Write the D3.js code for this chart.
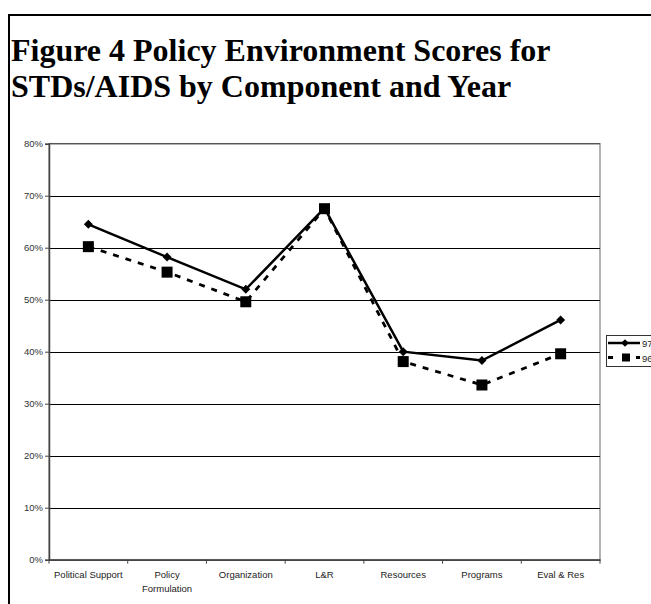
<!DOCTYPE html>
<html>
<head>
<meta charset="utf-8">
<script src="https://cdn.jsdelivr.net/npm/d3@7/dist/d3.min.js"></script>
<style>
  html, body { margin: 0; padding: 0; background: #fff; overflow: hidden; }
  svg { display: block; }
</style>
</head>
<body>
<svg id="chart" width="651" height="604"></svg>
<script>
// Component categories along the x axis (label lines split for wrapping)
const categories = ["Political Support", "Policy Formulation", "Organization", "L&R", "Resources", "Programs", "Eval & Res"];
const categoryLines = [["Political Support"], ["Policy", "Formulation"], ["Organization"], ["L&R"], ["Resources"], ["Programs"], ["Eval & Res"]];

// Policy environment scores (percent) by year
const series97 = [64.5, 58.2, 52.0, 67.6, 40.0, 38.3, 46.1];
const series96 = [60.2, 55.3, 49.6, 67.5, 38.1, 33.6, 39.6];
const seriesNames = ["97", "96"];

// Y axis ticks
const yTicks = [0, 10, 20, 30, 40, 50, 60, 70, 80];

const svg = d3.select("#chart");

// Outer frame
svg.append("rect")
  .attr("x", 9).attr("y", 15)
  .attr("width", 700).attr("height", 700)
  .attr("fill", "none").attr("stroke", "#000").attr("stroke-width", 2);

// Title
const title = svg.append("text")
  .attr("font-family", "'Liberation Serif', 'Times New Roman', serif")
  .attr("font-weight", "bold")
  .attr("font-size", 32)
  .attr("fill", "#000");
title.append("tspan").attr("x", 11).attr("y", 61).text("Figure 4 Policy Environment Scores for");
title.append("tspan").attr("x", 11).attr("y", 97).text("STDs/AIDS by Component and Year");

// Plot area
const plot = { left: 49, right: 600, top: 143.7, bottom: 559.7 };

const x = d3.scaleBand().domain(categories).range([plot.left, plot.right]).paddingInner(0).paddingOuter(0);
const y = d3.scaleLinear().domain([0, 80]).range([plot.bottom, plot.top]);

// Plot area border
svg.append("rect")
  .attr("x", plot.left).attr("y", plot.top)
  .attr("width", plot.right - plot.left).attr("height", plot.bottom - plot.top)
  .attr("fill", "none").attr("stroke", "#999").attr("stroke-width", 1.5);

// Horizontal gridlines
svg.append("g")
  .selectAll("line")
  .data(yTicks.filter(d => d > 0 && d < 80))
  .join("line")
  .attr("x1", plot.left).attr("x2", plot.right)
  .attr("y1", d => Math.round(y(d)) + 0.5).attr("y2", d => Math.round(y(d)) + 0.5)
  .attr("stroke", "#000").attr("stroke-width", 1.2);

svg.append("line")
  .attr("x1", plot.left).attr("x2", plot.right)
  .attr("y1", y(80)).attr("y2", y(80))
  .attr("stroke", "#555").attr("stroke-width", 1.2);

// Y axis
const yAxis = svg.append("g")
  .attr("transform", `translate(${plot.left},0)`)
  .call(d3.axisLeft(y).tickValues(yTicks).tickFormat(d => d + "%").tickSize(4).tickPadding(2));
yAxis.select(".domain").attr("stroke", "#444").attr("stroke-width", 1.5);
yAxis.selectAll(".tick line").attr("stroke", "#444");
yAxis.selectAll(".tick text")
  .attr("font-family", "'Liberation Sans', Arial, sans-serif")
  .attr("font-size", 9.5).attr("fill", "#333");

// X axis
const xAxis = svg.append("g")
  .attr("transform", `translate(0,${plot.bottom})`)
  .call(d3.axisBottom(x).tickSize(0).tickFormat(""));
xAxis.select(".domain").attr("stroke", "#444").attr("stroke-width", 1.8);
xAxis.selectAll(".tick").remove();

// Category boundary ticks
const boundaries = d3.range(categories.length + 1).map(i => plot.left + i * x.bandwidth());
svg.append("g").selectAll("line")
  .data(boundaries)
  .join("line")
  .attr("x1", d => d).attr("x2", d => d)
  .attr("y1", plot.bottom).attr("y2", plot.bottom + 4)
  .attr("stroke", "#444").attr("stroke-width", 1);

// Category labels
const labels = svg.append("g")
  .attr("font-family", "'Liberation Sans', Arial, sans-serif")
  .attr("font-size", 9.5).attr("fill", "#222").attr("text-anchor", "middle");
categories.forEach((c, i) => {
  const t = labels.append("text");
  categoryLines[i].forEach((ln, j) => {
    t.append("tspan")
      .attr("x", x(c) + x.bandwidth() / 2)
      .attr("y", 578 + j * 13.5)
      .text(ln);
  });
});

const cx = c => x(c) + x.bandwidth() / 2;

// 96 series: dashed line with squares
const line = d3.line().x((d, i) => cx(categories[i])).y(d => y(d));
svg.append("path")
  .datum(series96)
  .attr("d", line)
  .attr("fill", "none").attr("stroke", "#000")
  .attr("stroke-width", 2.8).attr("stroke-dasharray", "6,7");

// 97 series: solid line with diamonds
svg.append("path")
  .datum(series97)
  .attr("d", line)
  .attr("fill", "none").attr("stroke", "#000")
  .attr("stroke-width", 2.5);

svg.append("g").selectAll("rect")
  .data(series96)
  .join("rect")
  .attr("x", (d, i) => cx(categories[i]) - 5.5)
  .attr("y", d => y(d) - 5.5)
  .attr("width", 11).attr("height", 11)
  .attr("fill", "#000");

svg.append("g").selectAll("path")
  .data(series97)
  .join("path")
  .attr("d", d3.symbol().type(d3.symbolSquare).size(40))
  .attr("transform", (d, i) => `translate(${cx(categories[i])},${y(d)}) rotate(45)`)
  .attr("fill", "#000");

// Legend (runs past the right edge of the frame)
const legend = svg.append("g");
legend.append("rect")
  .attr("x", 606.5).attr("y", 335.5)
  .attr("width", 60).attr("height", 31)
  .attr("fill", "#fff").attr("stroke", "#333").attr("stroke-width", 1);

legend.append("line")
  .attr("x1", 608).attr("x2", 640).attr("y1", 343).attr("y2", 343)
  .attr("stroke", "#000").attr("stroke-width", 2.5);
legend.append("path")
  .attr("d", d3.symbol().type(d3.symbolSquare).size(30))
  .attr("transform", "translate(625,343) rotate(45)")
  .attr("fill", "#000");
legend.append("line")
  .attr("x1", 608).attr("x2", 640).attr("y1", 357.5).attr("y2", 357.5)
  .attr("stroke", "#000").attr("stroke-width", 2.8).attr("stroke-dasharray", "5,9");
legend.append("rect")
  .attr("x", 622).attr("y", 353.5).attr("width", 8).attr("height", 8).attr("fill", "#000");

legend.selectAll("text.lbl")
  .data(seriesNames)
  .join("text")
  .attr("class", "lbl")
  .attr("x", 642)
  .attr("y", (d, i) => 346.5 + i * 15)
  .attr("font-family", "'Liberation Sans', Arial, sans-serif")
  .attr("font-size", 9.5).attr("fill", "#222")
  .text(d => d);
</script>
</body>
</html>
